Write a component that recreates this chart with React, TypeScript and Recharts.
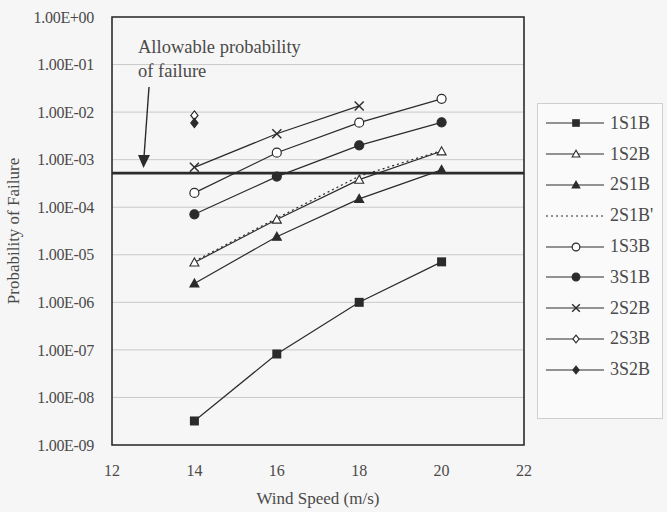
import React from "react"
import {
  LineChart,
  Line,
  XAxis,
  YAxis,
  CartesianGrid,
  ReferenceLine,
  ReferenceArea,
  Legend,
} from "recharts"

const windSpeed = [14, 16, 18, 20]
const s1S1B = [3.2e-9, 8.2e-8, 1.0e-6, 7.1e-6]
const s1S2B = [6.9e-6, 5.5e-5, 3.8e-4, 1.5e-3]
const s2S1B = [2.5e-6, 2.4e-5, 1.5e-4, 6.1e-4]
const s2S1Bp = [7.3e-6, 5.9e-5, 4.5e-4, 1.55e-3]
const s1S3B = [2.0e-4, 1.4e-3, 6.0e-3, 1.9e-2]
const s3S1B = [7.1e-5, 4.4e-4, 2.0e-3, 6.1e-3]
const s2S2B = [6.9e-4, 3.5e-3, 1.35e-2]
const s2S3B = [8.5e-3]
const s3S2B = [5.9e-3]
const allowable = 5.2e-4

const xTicks = [12, 14, 16, 18, 20, 22]
const yTicks = [1e-9, 1e-8, 1e-7, 1e-6, 1e-5, 1e-4, 1e-3, 1e-2, 1e-1, 1]

type Shape = "square" | "triangle" | "triangleFill" | "none" | "circle" | "circleFill" | "cross" | "diamond" | "diamondFill"

const series: { key: string; name: string; values: number[]; shape: Shape; dashed?: boolean }[] = [
  { key: "a", name: "1S1B", values: s1S1B, shape: "square" },
  { key: "b", name: "1S2B", values: s1S2B, shape: "triangle" },
  { key: "c", name: "2S1B", values: s2S1B, shape: "triangleFill" },
  { key: "d", name: "2S1B'", values: s2S1Bp, shape: "none", dashed: true },
  { key: "e", name: "1S3B", values: s1S3B, shape: "circle" },
  { key: "f", name: "3S1B", values: s3S1B, shape: "circleFill" },
  { key: "g", name: "2S2B", values: s2S2B, shape: "cross" },
  { key: "h", name: "2S3B", values: s2S3B, shape: "diamond" },
  { key: "i", name: "3S2B", values: s3S2B, shape: "diamondFill" },
]

const data = windSpeed.map((x, i) => {
  const row: Record<string, number | undefined> = { x }
  series.forEach((s) => {
    row[s.key] = s.values[i]
  })
  return row
})

const INK = "#2b2b2b"
const TXT = "#4a4a4a"
const FONT = "'Liberation Serif', 'Times New Roman', serif"
const LEGEND_W = 126

function Marker({ cx, cy, shape, scale = 1 }: { cx: number; cy: number; shape: Shape; scale?: number }) {
  const r = 4.5 * scale
  switch (shape) {
    case "square":
      return <rect x={cx - r} y={cy - r} width={r * 2} height={r * 2} fill={INK} />
    case "triangle":
    case "triangleFill":
      return (
        <polygon
          points={`${cx},${cy - r} ${cx - r},${cy + r * 0.8} ${cx + r},${cy + r * 0.8}`}
          fill={shape === "triangle" ? "#fff" : INK}
          stroke={INK}
          strokeWidth={1.1}
        />
      )
    case "circle":
    case "circleFill":
      return <circle cx={cx} cy={cy} r={r} fill={shape === "circle" ? "#fff" : INK} stroke={INK} strokeWidth={1.2} />
    case "cross":
      return (
        <g stroke={INK} strokeWidth={1.4}>
          <line x1={cx - r} y1={cy - r} x2={cx + r} y2={cy + r} />
          <line x1={cx - r} y1={cy + r} x2={cx + r} y2={cy - r} />
        </g>
      )
    case "diamond":
    case "diamondFill":
      return (
        <polygon
          points={`${cx},${cy - r} ${cx + r * 0.8},${cy} ${cx},${cy + r} ${cx - r * 0.8},${cy}`}
          fill={shape === "diamond" ? "#fff" : INK}
          stroke={INK}
          strokeWidth={1.2}
        />
      )
    default:
      return null
  }
}

const fmtExp = (v: number) => {
  const e = Math.round(Math.log10(v))
  const sign = e < 0 ? "-" : "+"
  return `1.00E${sign}${String(Math.abs(e)).padStart(2, "0")}`
}

function LegendBox() {
  return (
    <div
      style={{
        width: LEGEND_W,
        height: 316,
        border: "1px solid #cfcfcf",
        background: "#fafafa",
        boxSizing: "border-box",
        paddingTop: 4,
        fontFamily: FONT,
      }}
    >
      {series.map((s) => (
        <div key={s.key} style={{ display: "flex", alignItems: "center", height: 30.8 }}>
          <svg width={64} height={20} style={{ marginLeft: 6 }}>
            <line x1={2} y1={10} x2={60} y2={10} stroke={INK} strokeWidth={1.2} strokeDasharray={s.dashed ? "2 3" : undefined} />
            <Marker cx={32} cy={10} shape={s.shape} scale={0.85} />
          </svg>
          <span style={{ fontSize: 18, color: TXT, marginLeft: 2 }}>{s.name}</span>
        </div>
      ))}
    </div>
  )
}

export default function App() {
  return (
    <div style={{ position: "absolute", left: 0, top: 0, width: 667, height: 512, background: "#f6f6f6" }}>
      <LineChart width={667} height={512} data={data} margin={{ top: 17, right: 143 - LEGEND_W, bottom: 27, left: 0 }}>
        <CartesianGrid horizontal vertical={false} stroke="#c9c9c9" />
        <XAxis
          dataKey="x"
          type="number"
          domain={[12, 22]}
          ticks={xTicks}
          interval={0}
          height={40}
          tickLine={false}
          axisLine={false}
          tickMargin={14}
          tick={{ fill: TXT, fontSize: 16, fontFamily: FONT }}
          label={{ value: "Wind Speed (m/s)", position: "insideBottom", offset: -19, fill: TXT, fontSize: 17, fontFamily: FONT }}
        />
        <YAxis
          scale="log"
          domain={[1e-9, 1]}
          ticks={yTicks}
          interval={0}
          allowDataOverflow
          width={112}
          tickLine={false}
          axisLine={false}
          tickMargin={12}
          tickFormatter={fmtExp}
          tick={{ fill: TXT, fontSize: 16, fontFamily: FONT, letterSpacing: -0.3 }}
          label={{ value: "Probability of Failure", angle: -90, position: "insideLeft", offset: 13, fill: TXT, fontSize: 17, fontFamily: FONT, style: { textAnchor: "middle" } }}
        />
        <ReferenceArea x1={12} x2={22} y1={1e-9} y2={1} fill="none" stroke={INK} strokeWidth={1.6} ifOverflow="visible" />
        <ReferenceLine y={allowable} stroke={INK} strokeWidth={2.6} />
        {series.map((s) => (
          <Line
            key={s.key}
            dataKey={s.key}
            name={s.name}
            stroke={INK}
            strokeWidth={1.2}
            strokeDasharray={s.dashed ? "2 3" : undefined}
            isAnimationActive={false}
            connectNulls={false}
            dot={(p: any) =>
              p.cx == null || p.cy == null || p.value == null ? (
                <g key={p.key} />
              ) : (
                <g key={p.key}>
                  <Marker cx={p.cx} cy={p.cy} shape={s.shape} />
                </g>
              )
            }
            activeDot={false}
          />
        ))}
        <Legend
          layout="vertical"
          align="right"
          verticalAlign="middle"
          content={() => <LegendBox />}
          wrapperStyle={{ position: "absolute", left: 537, top: 103, width: LEGEND_W }}
        />
        <g fontFamily={FONT} fill={TXT} fontSize={18.5}>
          <text x={138} y={53}>Allowable probability</text>
          <text x={138} y={77}>of failure</text>
          <line x1={149} y1={87} x2={144} y2={157} stroke={INK} strokeWidth={1.4} />
          <polygon points="138,155 150,155 143.5,168" fill={INK} />
        </g>
      </LineChart>
    </div>
  )
}
